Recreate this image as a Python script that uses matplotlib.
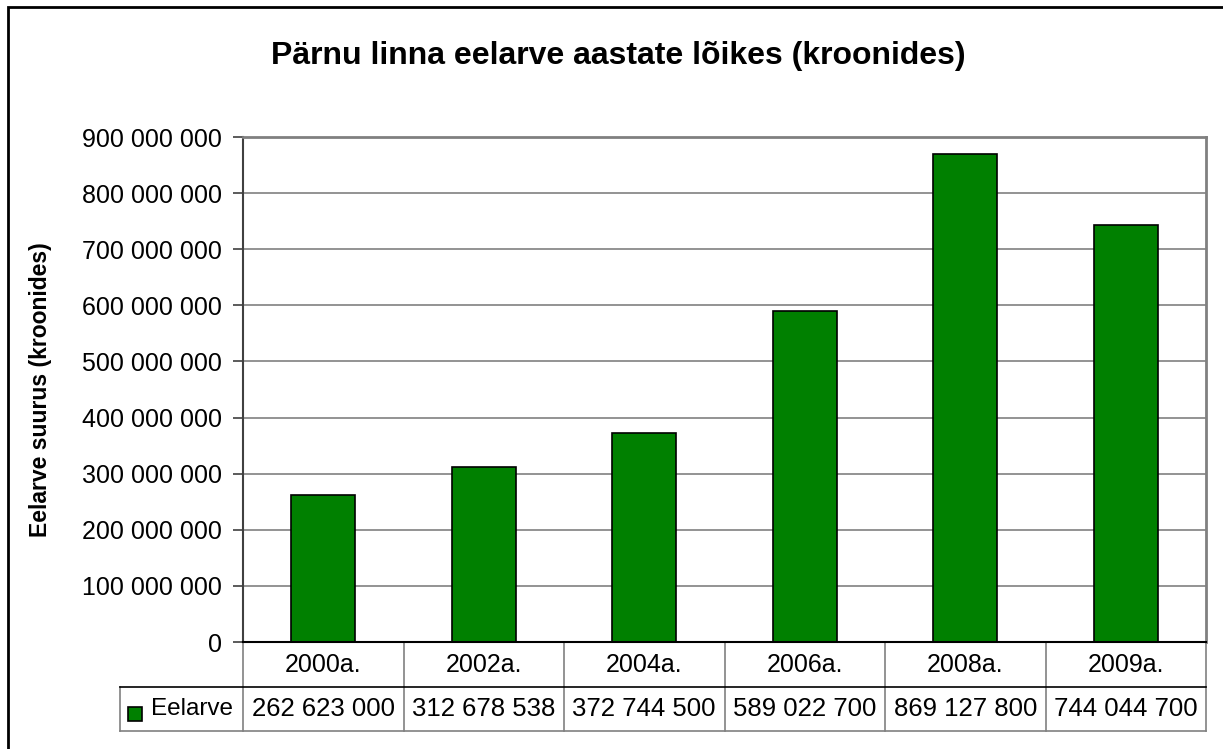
import numpy as np
import matplotlib.pyplot as plt
import matplotlib.transforms as mtransforms
from matplotlib.patches import Rectangle

plt.rcParams['font.family'] = ['Liberation Sans', 'DejaVu Sans']

years = ['2000a.', '2002a.', '2004a.', '2006a.', '2008a.', '2009a.']
budget = [262623000, 312678538, 372744500, 589022700, 869127800, 744044700]
series_name = 'Eelarve'
title = 'Pärnu linna eelarve aastate lõikes (kroonides)'
y_label = 'Eelarve suurus (kroonides)'

W, H = 1223, 749
fig = plt.figure(figsize=(W / 100, H / 100), dpi=100)

# plot area in pixels
left, right, top, bottom = 243, 1206, 137, 642
ax = fig.add_axes([left / W, 1 - bottom / H, (right - left) / W, (bottom - top) / H])

green = '#008000'
grid_gray = '#808080'
x = np.arange(len(years))
ax.bar(x, budget, width=0.4, color=green, edgecolor='black', linewidth=1.2, zorder=3)

ax.set_xlim(-0.5, len(years) - 0.5)
ax.set_ylim(0, 900000000)
ticks = np.arange(0, 900000001, 100000000)
ax.set_yticks(ticks)
ax.set_yticklabels(['{:,}'.format(t).replace(',', ' ') for t in ticks], fontsize=18)
ax.set_xticks([])
ax.yaxis.grid(True, color=grid_gray, linewidth=1.2, zorder=0)
ax.tick_params(axis='y', length=7, width=1.2, color='#404040', pad=8)

for side in ['top', 'right']:
    ax.spines[side].set_color(grid_gray)
    ax.spines[side].set_linewidth(2)
ax.spines['left'].set_color('#404040')
ax.spines['left'].set_linewidth(1.5)
ax.spines['bottom'].set_color('black')
ax.spines['bottom'].set_linewidth(1.5)
ax.spines['bottom'].set_zorder(4)

fig.text(41 / W, 1 - 390 / H, y_label, rotation=90, ha='center', va='center',
         fontsize=16.5, fontweight='bold')

# data table below the axis
tr = mtransforms.blended_transform_factory(ax.transData, ax.transAxes)
ph = bottom - top
row1 = -(687 - bottom) / ph
row2 = -(731 - bottom) / ph
x_leg = -0.5 - (left - 120) / ((right - left) / len(years))
n = len(years)
lw = 1.2
for i in range(n + 1):
    ax.plot([i - 0.5, i - 0.5], [0, row2], color=grid_gray, lw=lw, transform=tr, clip_on=False)
ax.plot([x_leg, x_leg], [row1, row2], color=grid_gray, lw=lw, transform=tr, clip_on=False)
ax.plot([x_leg, n - 0.5], [row1, row1], color='black', lw=lw, transform=tr, clip_on=False)
ax.plot([x_leg, n - 0.5], [row2, row2], color=grid_gray, lw=lw, transform=tr, clip_on=False)

for i, (yr, val) in enumerate(zip(years, budget)):
    ax.text(i, row1 / 2, yr, transform=tr, ha='center', va='center', fontsize=18)
    ax.text(i, (row1 + row2) / 2, '{:,}'.format(val).replace(',', ' '),
            transform=tr, ha='center', va='center', fontsize=18.5)

# legend key inside the table
fig.patches.append(Rectangle((128 / W, 1 - 721 / H), 14 / W, 14 / H, transform=fig.transFigure,
                             facecolor=green, edgecolor='black', linewidth=1.2))
fig.text(151 / W, 1 - 709 / H, series_name, ha='left', va='center', fontsize=17.5)

fig.text(618 / W, 1 - 56 / H, title, ha='center', va='center', fontsize=23, fontweight='bold')

# outer chart border
fig.patches.append(Rectangle((8 / W, -0.05), 1.1, 1 - 7 / H + 0.05, transform=fig.transFigure,
                             facecolor='none', edgecolor='black', linewidth=2))

fig.savefig('out.png', dpi=100)
